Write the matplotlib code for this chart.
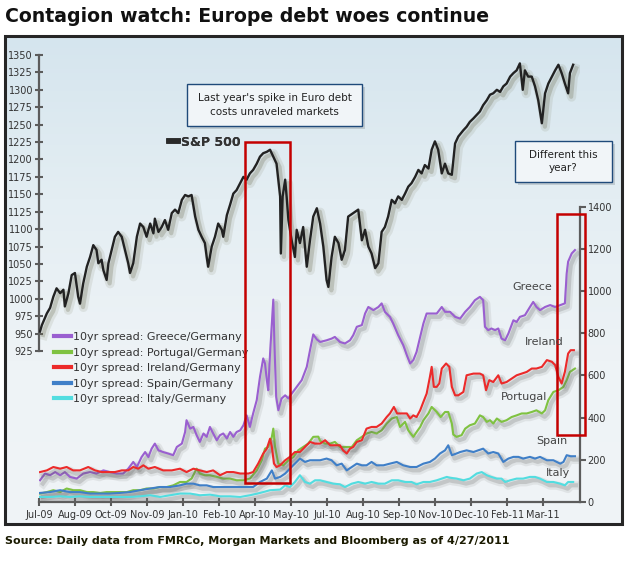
import numpy as np
import matplotlib
matplotlib.use('Agg')
import matplotlib.pyplot as plt
from matplotlib import patheffects as pe
from matplotlib.patches import Rectangle
from matplotlib.lines import Line2D
from matplotlib.colors import LinearSegmentedColormap

# ---------------- data ----------------
TICK_LABELS = ['Jul-09', 'Aug-09', 'Oct-09', 'Nov-09', 'Jan-10', 'Feb-10', 'Apr-10', 'May-10',
               'Jul-10', 'Aug-10', 'Sep-10', 'Nov-10', 'Dec-10', 'Feb-11', 'Mar-11']

# x positions are in "tick intervals" since Jul-09 (ticks evenly spaced in trading days)
SP500_T = [0.02,0.07,0.21,0.30,0.39,0.48,0.58,0.67,0.71,0.81,
           0.90,0.99,1.08,1.13,1.22,1.32,1.41,1.50,1.59,1.64,
           1.73,1.78,1.87,1.92,2.01,2.10,2.19,2.29,2.38,2.47,
           2.52,2.61,2.71,2.80,2.89,2.98,3.08,3.17,3.21,3.31,
           3.40,3.49,3.58,3.68,3.77,3.86,3.96,4.05,4.14,4.23,
           4.33,4.42,4.51,4.60,4.65,4.69,4.79,4.88,4.97,5.07,
           5.11,5.21,5.30,5.39,5.48,5.58,5.67,5.76,5.85,5.94,
           6.04,6.13,6.22,6.32,6.41,6.50,6.59,6.64,6.69,6.71,
           6.76,6.83,6.87,6.92,7.01,7.10,7.15,7.24,7.33,7.43,
           7.52,7.61,7.71,7.80,7.89,7.98,8.03,8.12,8.21,8.31,
           8.40,8.49,8.58,8.72,8.86,8.96,9.05,9.14,9.23,9.33,
           9.42,9.51,9.60,9.69,9.79,9.88,9.97,10.07,10.16,10.25,
           10.34,10.44,10.53,10.62,10.71,10.81,10.90,10.99,11.08,11.18,
           11.27,11.36,11.46,11.55,11.64,11.78,11.87,11.96,12.06,12.15,
           12.24,12.33,12.43,12.52,12.61,12.71,12.80,12.89,12.98,13.08,
           13.17,13.26,13.35,13.43,13.49,13.58,13.68,13.77,13.86,13.96,
           14.05,14.14,14.24,14.33,14.42,14.51,14.60,14.69,14.74,14.83]
SP500 = [953,962,979,987,1003,1015,1008,1013,989,1008,
         1034,1037,1003,993,1022,1046,1060,1077,1070,1051,
         1056,1041,1027,1051,1070,1089,1096,1089,1070,1051,
         1037,1051,1089,1108,1103,1089,1108,1094,1115,1096,
         1103,1113,1099,1123,1128,1123,1142,1149,1147,1149,
         1118,1099,1089,1080,1060,1046,1075,1089,1108,1099,
         1089,1120,1135,1151,1156,1166,1175,1171,1180,1185,
         1194,1204,1209,1211,1214,1204,1194,1171,1147,1065,
         1147,1171,1147,1113,1084,1060,1099,1080,1103,1046,
         1084,1118,1130,1108,1075,1027,1017,1060,1089,1080,
         1056,1070,1118,1123,1128,1084,1099,1075,1065,1044,
         1051,1096,1103,1118,1142,1137,1147,1142,1151,1161,
         1166,1175,1185,1180,1192,1187,1214,1226,1214,1180,
         1194,1180,1178,1223,1233,1242,1247,1254,1259,1264,
         1269,1278,1285,1293,1295,1300,1297,1305,1309,1319,
         1324,1328,1338,1300,1328,1319,1319,1305,1285,1252,
         1295,1309,1319,1328,1336,1324,1309,1295,1324,1336]

GREECE_T = [0.02,0.16,0.30,0.44,0.58,0.71,0.85,1.04,1.22,1.41,1.59,1.78,1.96,2.15,2.33,2.47,2.61,2.71,
            2.84,2.94,3.03,3.12,3.21,3.31,3.44,3.58,3.72,3.82,3.96,4.05,4.09,4.19,4.28,4.37,4.46,4.56,
            4.65,4.74,4.83,4.93,5.02,5.11,5.21,5.30,5.39,5.48,5.58,5.67,5.76,5.85,5.94,6.04,6.13,6.22,
            6.27,6.32,6.36,6.41,6.46,6.50,6.53,6.58,6.64,6.73,6.83,6.92,7.01,7.15,7.29,7.43,7.52,7.61,
            7.71,7.80,7.98,8.12,8.21,8.35,8.49,8.63,8.72,8.82,8.96,9.05,9.14,9.28,9.42,9.51,9.60,9.74,
            9.83,9.97,10.11,10.21,10.30,10.39,10.48,10.58,10.67,10.76,10.90,11.04,11.18,11.27,11.41,
            11.55,11.69,11.83,11.96,12.10,12.24,12.33,12.38,12.47,12.56,12.66,12.75,12.84,12.94,13.03,
            13.17,13.26,13.35,13.49,13.63,13.72,13.81,13.91,14.05,14.19,14.33,14.47,14.60,14.65,14.69,
            14.79,14.88]
GREECE = [103,135,127,142,127,142,119,111,135,142,135,150,142,135,135,158,190,166,
          213,237,213,253,277,245,237,230,222,261,277,332,388,348,356,317,285,325,
          309,356,325,293,317,325,301,332,309,332,340,364,411,356,420,483,593,681,
          657,578,530,704,850,960,760,498,435,491,506,491,514,546,578,641,720,795,
          771,759,767,775,783,759,752,767,791,831,839,894,925,910,925,942,902,878,
          847,791,744,696,657,673,712,783,847,894,894,894,925,902,902,
          878,870,902,925,957,973,957,831,815,823,815,823,775,767,799,
          862,854,878,886,925,949,925,910,925,934,925,934,942,1084,1140,
          1179,1195]

IRELAND_T = [0.02,0.21,0.39,0.58,0.76,0.94,1.13,1.36,1.55,1.73,1.92,2.10,2.29,2.47,2.61,2.75,2.89,3.03,
             3.21,3.44,3.68,3.91,4.09,4.28,4.46,4.65,4.83,5.02,5.21,5.39,5.58,5.81,5.94,6.08,6.22,6.32,
             6.41,6.46,6.52,6.59,6.69,6.83,6.96,7.10,7.24,7.38,7.52,7.66,7.80,7.94,8.08,8.21,8.35,8.44,
             8.54,8.63,8.72,8.82,8.96,9.09,9.23,9.37,9.51,9.65,9.74,9.85,9.94,10.07,10.21,10.30,10.39,
             10.48,10.58,10.67,10.76,10.85,10.90,10.96,11.04,11.11,11.18,11.30,11.39,11.46,11.55,11.64,
             11.78,11.87,12.06,12.24,12.33,12.41,12.50,12.61,12.75,12.84,12.98,13.12,13.26,13.40,13.54,
             13.68,13.81,13.96,14.10,14.24,14.33,14.42,14.51,14.60,14.69,14.76,14.85]
IRELAND = [142,150,166,158,166,150,150,166,150,142,142,142,150,150,166,158,174,158,
           166,150,150,158,142,158,150,142,150,127,142,142,135,135,142,182,230,253,
           300,261,182,166,174,198,214,237,237,261,285,277,277,293,269,269,269,245,
           230,253,261,285,293,348,356,356,372,403,420,451,420,420,420,396,411,
           403,435,475,514,593,641,546,546,562,633,657,641,546,506,506,
           522,601,609,609,601,530,578,569,601,562,569,585,601,609,617,
           633,633,641,673,665,649,593,562,617,704,720,720]

PORTUGAL_T = [0.02,0.21,0.39,0.58,0.76,0.94,1.13,1.32,1.50,1.69,1.87,2.06,2.24,2.43,2.61,2.80,2.98,3.17,
              3.35,3.54,3.72,3.91,4.09,4.23,4.37,4.46,4.60,4.74,4.93,5.11,5.30,5.48,5.67,5.85,6.04,6.18,
              6.27,6.36,6.46,6.50,6.55,6.64,6.78,6.92,7.06,7.19,7.33,7.47,7.61,7.75,7.80,7.94,8.08,8.21,
              8.35,8.54,8.68,8.82,8.96,9.09,9.23,9.37,9.51,9.65,9.79,9.93,10.02,10.16,10.25,10.39,10.48,
              10.58,10.67,10.81,10.90,11.04,11.15,11.27,11.36,11.46,11.50,11.59,11.73,11.83,11.96,12.10,
              12.24,12.33,12.43,12.52,12.61,12.71,12.84,12.98,13.12,13.26,13.40,13.54,13.68,13.81,13.96,
              14.05,14.14,14.28,14.42,14.56,14.65,14.74,14.88]
PORTUGAL = [40,47,56,47,64,56,56,47,47,43,47,47,47,47,56,56,64,64,
            71,71,79,95,95,111,158,135,127,127,119,111,111,103,103,111,150,198,
            253,261,309,348,261,182,174,198,214,245,261,277,309,310,290,277,277,285,
            261,261,261,293,309,325,332,325,340,372,396,403,356,380,340,309,332,
            356,388,420,451,427,403,427,427,372,320,309,317,348,364,372,
            411,403,380,388,372,396,380,388,403,411,420,420,427,435,420,
            435,483,522,530,546,578,617,633]

SPAIN_T = [0.02,0.30,0.58,0.85,1.13,1.41,1.69,1.96,2.24,2.52,2.80,3.08,3.35,3.63,3.91,4.09,4.28,4.46,
           4.65,4.83,5.02,5.21,5.39,5.58,5.76,5.94,6.13,6.32,6.46,6.55,6.69,6.83,6.96,7.10,7.24,7.38,
           7.52,7.66,7.80,7.98,8.12,8.26,8.40,8.54,8.68,8.82,8.96,9.09,9.23,9.37,9.56,9.74,9.93,10.11,
           10.30,10.48,10.67,10.85,10.99,11.13,11.27,11.36,11.46,11.59,11.69,11.87,12.06,12.19,12.33,
           12.47,12.61,12.75,12.89,13.03,13.17,13.31,13.44,13.63,13.77,13.91,14.10,14.28,14.47,14.56,
           14.65,14.76,14.88]
SPAIN = [43,47,56,47,47,40,40,40,43,47,56,64,71,71,79,87,87,79,
         79,71,71,71,71,71,71,71,95,111,150,111,119,135,158,182,206,190,
         198,198,198,206,198,174,182,150,166,182,174,174,190,174,174,182,190,174,
         166,166,182,190,206,230,245,269,222,230,237,245,237,245,253,
         230,237,230,190,206,214,214,206,214,206,214,198,198,182,190,
         222,217,217]

ITALY_T = [0.02,0.30,0.58,0.85,1.13,1.41,1.69,1.96,2.24,2.52,2.80,3.08,3.35,3.63,3.91,4.19,4.46,4.74,
           5.02,5.30,5.58,5.85,6.13,6.41,6.69,6.83,6.96,7.10,7.24,7.38,7.52,7.66,7.80,7.98,8.17,8.35,
           8.49,8.68,8.86,9.05,9.23,9.42,9.60,9.79,9.97,10.16,10.34,10.48,10.67,10.85,11.04,11.18,11.32,
           11.41,11.59,11.78,11.96,12.15,12.29,12.43,12.56,12.71,12.84,12.94,13.08,13.26,13.44,13.63,
           13.77,13.91,14.10,14.28,14.47,14.60,14.69,14.83]
ITALY = [24,24,27,24,27,24,24,24,24,24,27,32,24,32,40,40,32,35,
         27,27,24,32,43,56,59,79,71,95,127,95,87,103,103,95,87,84,
         71,87,95,87,95,87,87,103,103,95,95,84,95,95,103,111,119,
         115,111,103,111,135,142,127,119,111,111,95,103,111,111,119,
         119,111,95,95,87,79,95,95]

SPREADS = [
    ('10yr spread: Greece/Germany', GREECE_T, GREECE, '#9a5fd0'),
    ('10yr spread: Portugal/Germany', PORTUGAL_T, PORTUGAL, '#7fc241'),
    ('10yr spread: Ireland/Germany', IRELAND_T, IRELAND, '#ec2a2a'),
    ('10yr spread: Spain/Germany', SPAIN_T, SPAIN, '#3f7fc8'),
    ('10yr spread: Italy/Germany', ITALY_T, ITALY, '#52dde0'),
]
SERIES_NAMES = ['Greece', 'Ireland', 'Portugal', 'Spain', 'Italy']

# ---------------- layout ----------------
W, H = 629, 566
fig = plt.figure(figsize=(W / 100, H / 100), dpi=100)
fig.patch.set_facecolor('white')


def fx(x):
    return x / W


def fy(y):
    return 1 - y / H


# panel background (pixel-coordinate axes)
bg = fig.add_axes([0, 0, 1, 1], zorder=0)
bg.set_xlim(0, W)
bg.set_ylim(H, 0)
bg.axis('off')
grad = np.linspace(0, 1, 256).reshape(-1, 1)
cmap = LinearSegmentedColormap.from_list('g', ['#d5e5ee', '#e4eef3', '#eef3f6', '#f0f4f7'])
bg.imshow(grad, extent=[5, 622, 524, 36], cmap=cmap, aspect='auto', zorder=0)
bg.add_patch(Rectangle((5, 36), 617, 488, fill=False, ec='#262626', lw=2.2, zorder=2))

# main axes
ax1 = fig.add_axes([fx(39.3), fy(502), fx(580) - fx(39.3), fy(55) - fy(502)], zorder=2)
ax1.set_facecolor('none')
ax2 = ax1.twinx()
ax2.set_facecolor('none')

SPINE = '#5c5c5c'
ax1.set_xlim(0, 15.02)
ax1.set_ylim(708.2, 1350)
ax2.set_ylim(0, 2120)

for s in ['top', 'right']:
    ax1.spines[s].set_visible(False)
for s in ['top', 'left', 'bottom']:
    ax2.spines[s].set_visible(False)
ax1.spines['left'].set_bounds(925, 1350)
ax1.spines['left'].set_color(SPINE)
ax1.spines['left'].set_linewidth(1.6)
ax1.spines['bottom'].set_color(SPINE)
ax1.spines['bottom'].set_linewidth(1.6)
ax2.spines['right'].set_bounds(0, 1400)
ax2.spines['right'].set_color(SPINE)
ax2.spines['right'].set_linewidth(1.6)

ax1.set_xticks(range(len(TICK_LABELS)))
ax1.set_xticklabels(TICK_LABELS)
ax1.set_yticks(np.arange(925, 1351, 25))
ax2.set_yticks(np.arange(0, 1401, 200))

ax1.tick_params(axis='y', direction='inout', length=6, width=1.5, color=SPINE,
                labelsize=7, labelcolor='#333333', pad=1.5)
ax1.tick_params(axis='x', direction='inout', length=6, width=1.5, color=SPINE,
                labelsize=7, labelcolor='#333333', pad=3)
ax2.tick_params(axis='y', direction='out', length=4, width=1.5, color=SPINE,
                labelsize=7, labelcolor='#333333', pad=1.5)

# spreads
for label, t, v, c in SPREADS:
    ax2.plot(t, v, color=c, lw=1.5, solid_joinstyle='round', zorder=3,
             path_effects=[pe.SimpleLineShadow(offset=(2.2, -2.6), shadow_color='#707070', alpha=0.12, linewidth=6),
                           pe.SimpleLineShadow(offset=(2.0, -2.4), shadow_color='#606060', alpha=0.22, linewidth=3),
                           pe.Normal()])

# S&P 500
ax1.plot(SP500_T, SP500, color='#222222', lw=1.7, solid_joinstyle='round', zorder=4,
         path_effects=[pe.SimpleLineShadow(offset=(2.5, -2.8), shadow_color='#77775a', alpha=0.13, linewidth=6.5),
                       pe.SimpleLineShadow(offset=(2.2, -2.5), shadow_color='#66664a', alpha=0.25, linewidth=3),
                       pe.Normal()])

# legends
sp_leg = ax1.legend([Line2D([], [], color='#2a2a2a', lw=4)], ['S&P 500'], loc='center left',
                    bbox_to_anchor=(fx(169), fy(142)), bbox_transform=fig.transFigure,
                    frameon=False, borderpad=0, borderaxespad=0, handlelength=0.7,
                    handletextpad=0.25, prop={'size': 9, 'weight': 'semibold'}, labelcolor='#333333')
ax1.add_artist(sp_leg)

handles = [Line2D([], [], color=c, lw=3) for _, _, _, c in SPREADS]
labels = [l for l, _, _, _ in SPREADS]
ax2.legend(handles, labels, loc='upper left', bbox_to_anchor=(fx(54), fy(332)),
           bbox_transform=fig.transFigure, frameon=False, borderpad=0, borderaxespad=0,
           handlelength=1.5, handletextpad=0.2, labelspacing=0.5, fontsize=8, labelcolor='#333333')

# overlay for annotations (pixel coordinates)
ov = fig.add_axes([0, 0, 1, 1], zorder=5)
ov.set_xlim(0, W)
ov.set_ylim(H, 0)
ov.axis('off')
ov.patch.set_alpha(0)

RED = '#c40000'
ov.add_patch(Rectangle((245.3, 142.3), 44.7, 340.4, fill=False, ec=RED, lw=1.8))
ov.add_patch(Rectangle((556.7, 214.3), 28.3, 220.7, fill=False, ec=RED, lw=1.8))


def note(x0, y0, x1, y1, text):
    ov.add_patch(Rectangle((x0 + 3, y0 + 3), x1 - x0, y1 - y0, fc='#9aa4ab', ec='none', alpha=0.45))
    ov.add_patch(Rectangle((x0, y0), x1 - x0, y1 - y0, fc='#f1f5f8', ec='#1f4a7a', lw=1.0))
    ov.text((x0 + x1) / 2, (y0 + y1) / 2, text, ha='center', va='center', fontsize=7.5,
            color='#222222', linespacing=1.45)


note(187, 84, 362, 126, "Last year's spike in Euro debt\ncosts unraveled markets")
note(515, 141, 612, 182, "Different this\nyear?")

NAME_POS = [(532.5, 286.7), (544, 342.3), (524, 397.3), (552, 441), (558, 473.3)]
for name, (x, y) in zip(SERIES_NAMES, NAME_POS):
    ov.text(x, y, name, ha='center', va='center', fontsize=8, color='#444444')

# title and source
fig.text(fx(5), fy(17), 'Contagion watch: Europe debt woes continue', ha='left', va='center',
         fontsize=13.6, weight='heavy', color='#111111')
fig.text(fx(5), fy(541), 'Source: Daily data from FMRCo, Morgan Markets and Bloomberg as of 4/27/2011',
         ha='left', va='center', fontsize=8.0, weight='bold', color='#1a1a00')

fig.savefig('out.png', dpi=100)
